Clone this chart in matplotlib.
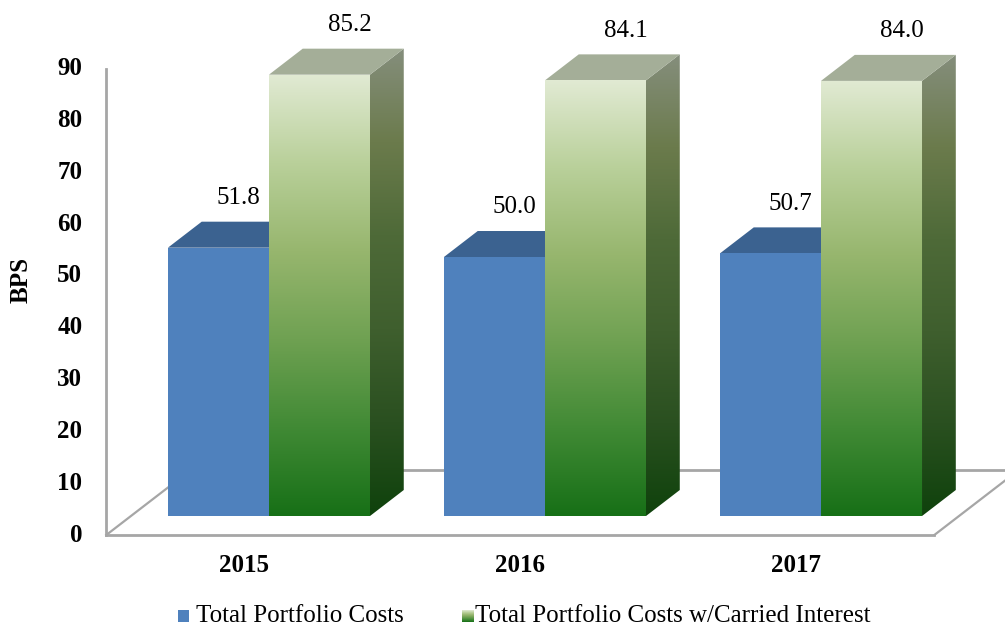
import numpy as np
import matplotlib
matplotlib.use("Agg")
import matplotlib.pyplot as plt
from matplotlib.colors import LinearSegmentedColormap
from matplotlib.patches import Polygon

# ---- data ----
years = ["2015", "2016", "2017"]
portfolio_costs = [51.8, 50.0, 50.7]
costs_with_carry = [85.2, 84.1, 84.0]
yticks = [0, 10, 20, 30, 40, 50, 60, 70, 80, 90]
series_names = ["Total Portfolio Costs", "Total Portfolio Costs w/Carried Interest"]

plt.rcParams["font.family"] = ["Liberation Serif", "DejaVu Serif"]
FS = 18

W, H = 1005, 627
fig = plt.figure(figsize=(W / 100, H / 100), dpi=100)
ax = fig.add_axes([0, 0, 1, 1])
ax.set_axis_off()

# oblique projection: depth d in [0, 1] shifts right/up
DX, DY = 0.306, 12.55
D_FRONT, D_BACK = 0.292, 0.692
BAR_W = 0.366
XLIM = (-0.885, 2.756)
YLIM = (-17.76, 103.28)


def P(x, y, d):
    return (x + d * DX, y + d * DY)


floor_col = "#a6a6a6"
# back floor edge
ax.plot(*zip(P(-0.5, 0, 1), P(2.5, 0, 1)), color=floor_col, lw=2, zorder=1)
# side floor edges
ax.plot(*zip(P(-0.5, 0, 0), P(-0.5, 0, 1)), color=floor_col, lw=1.6, zorder=1)
ax.plot(*zip(P(2.5, 0, 0), P(2.5, 0, 1)), color=floor_col, lw=1.6, zorder=1)
# front floor edge and value axis line
ax.plot(*zip(P(-0.5, 0, 0), P(2.5, 0, 0)), color=floor_col, lw=2, zorder=1)
ax.plot(*zip(P(-0.5, 0, 0), P(-0.5, 90, 0)), color=floor_col, lw=2, zorder=1)

front_cmap = LinearSegmentedColormap.from_list(
    "front", ["#177017", "#418a35", "#6fa152", "#97b66e", "#b9d09a", "#e1ead3"])
side_cmap = LinearSegmentedColormap.from_list(
    "side", ["#0f420c", "#2a5020", "#3f5f2e", "#4e6a38", "#6b7b4c", "#858e7c"])


def gradient_poly(pts, cmap, y0, y1, z):
    poly = Polygon(pts, closed=True, facecolor="none", edgecolor="none", zorder=z)
    ax.add_patch(poly)
    xs = [p[0] for p in pts]
    grad = np.linspace(0, 1, 256).reshape(-1, 1)
    im = ax.imshow(grad, cmap=cmap, origin="lower", aspect="auto",
                   extent=(min(xs), max(xs), y0, y1), zorder=z,
                   interpolation="bilinear")
    im.set_clip_path(poly)


def box(x0, val, kind, z):
    x1 = x0 + BAR_W
    front = [P(x0, 0, D_FRONT), P(x1, 0, D_FRONT), P(x1, val, D_FRONT), P(x0, val, D_FRONT)]
    side = [P(x1, 0, D_FRONT), P(x1, 0, D_BACK), P(x1, val, D_BACK), P(x1, val, D_FRONT)]
    top = [P(x0, val, D_FRONT), P(x1, val, D_FRONT), P(x1, val, D_BACK), P(x0, val, D_BACK)]
    if kind == "blue":
        ax.add_patch(Polygon(side, closed=True, facecolor="#3f6a9e", edgecolor="none", zorder=z))
        ax.add_patch(Polygon(top, closed=True, facecolor="#3b6290", edgecolor="none", zorder=z))
        ax.add_patch(Polygon(front, closed=True, facecolor="#4f81bd", edgecolor="none", zorder=z))
    else:
        base_y = D_FRONT * DY
        gradient_poly(side, side_cmap, base_y, val + D_BACK * DY, z)
        ax.add_patch(Polygon(top, closed=True, facecolor="#a4ae98", edgecolor="none", zorder=z))
        gradient_poly(front, front_cmap, base_y, val + base_y, z + 0.1)


for i, (b, g) in enumerate(zip(portfolio_costs, costs_with_carry)):
    box(i - BAR_W, b, "blue", 2 + i)
    box(i, g, "green", 2.5 + i)
    # value labels above the top faces
    bx, by = P(i - BAR_W / 2, b, (D_FRONT + D_BACK) / 2)
    ax.text(bx + 0.01, b + D_BACK * DY + 4.6, f"{b:.1f}", ha="center", va="center",
            fontsize=FS, zorder=10)
    gx, gy = P(i + BAR_W / 2, g, D_BACK)
    ax.text(gx - 0.012, g + D_BACK * DY + 4.6, f"{g:.1f}", ha="center", va="center",
            fontsize=FS, zorder=10)
    ax.text(i, -5.9, years[i], ha="center", va="center", fontsize=FS,
            fontweight="bold", zorder=10)

# value axis tick labels
for t in yticks:
    ax.text(-0.5 - 0.087, t, f"{t}", ha="right", va="center", fontsize=FS,
            fontweight="bold")
ax.text(-0.81, 49.2, "BPS", rotation=90, ha="center", va="center", fontsize=FS,
        fontweight="bold")

# legend
leg_y = -15.6
sq_h = 2.3
sq_w = 11 / 276
lx1 = (178 - 244.3) / 276
ax.add_patch(plt.Rectangle((lx1, leg_y - sq_h / 2), sq_w, sq_h, facecolor="#4f81bd",
                           edgecolor="none"))
ax.text(lx1 + sq_w + 0.025, leg_y, series_names[0], ha="left", va="center", fontsize=FS)
lx2 = (462 - 244.3) / 276
ax.imshow(np.linspace(0, 1, 64).reshape(-1, 1), cmap=front_cmap, origin="lower",
          aspect="auto", extent=(lx2, lx2 + sq_w, leg_y - sq_h / 2, leg_y + sq_h / 2))
ax.text(lx2 + sq_w + 0.008, leg_y, series_names[1], ha="left", va="center", fontsize=FS)

ax.set_xlim(*XLIM)
ax.set_ylim(*YLIM)
fig.savefig("out.png", dpi=100)
